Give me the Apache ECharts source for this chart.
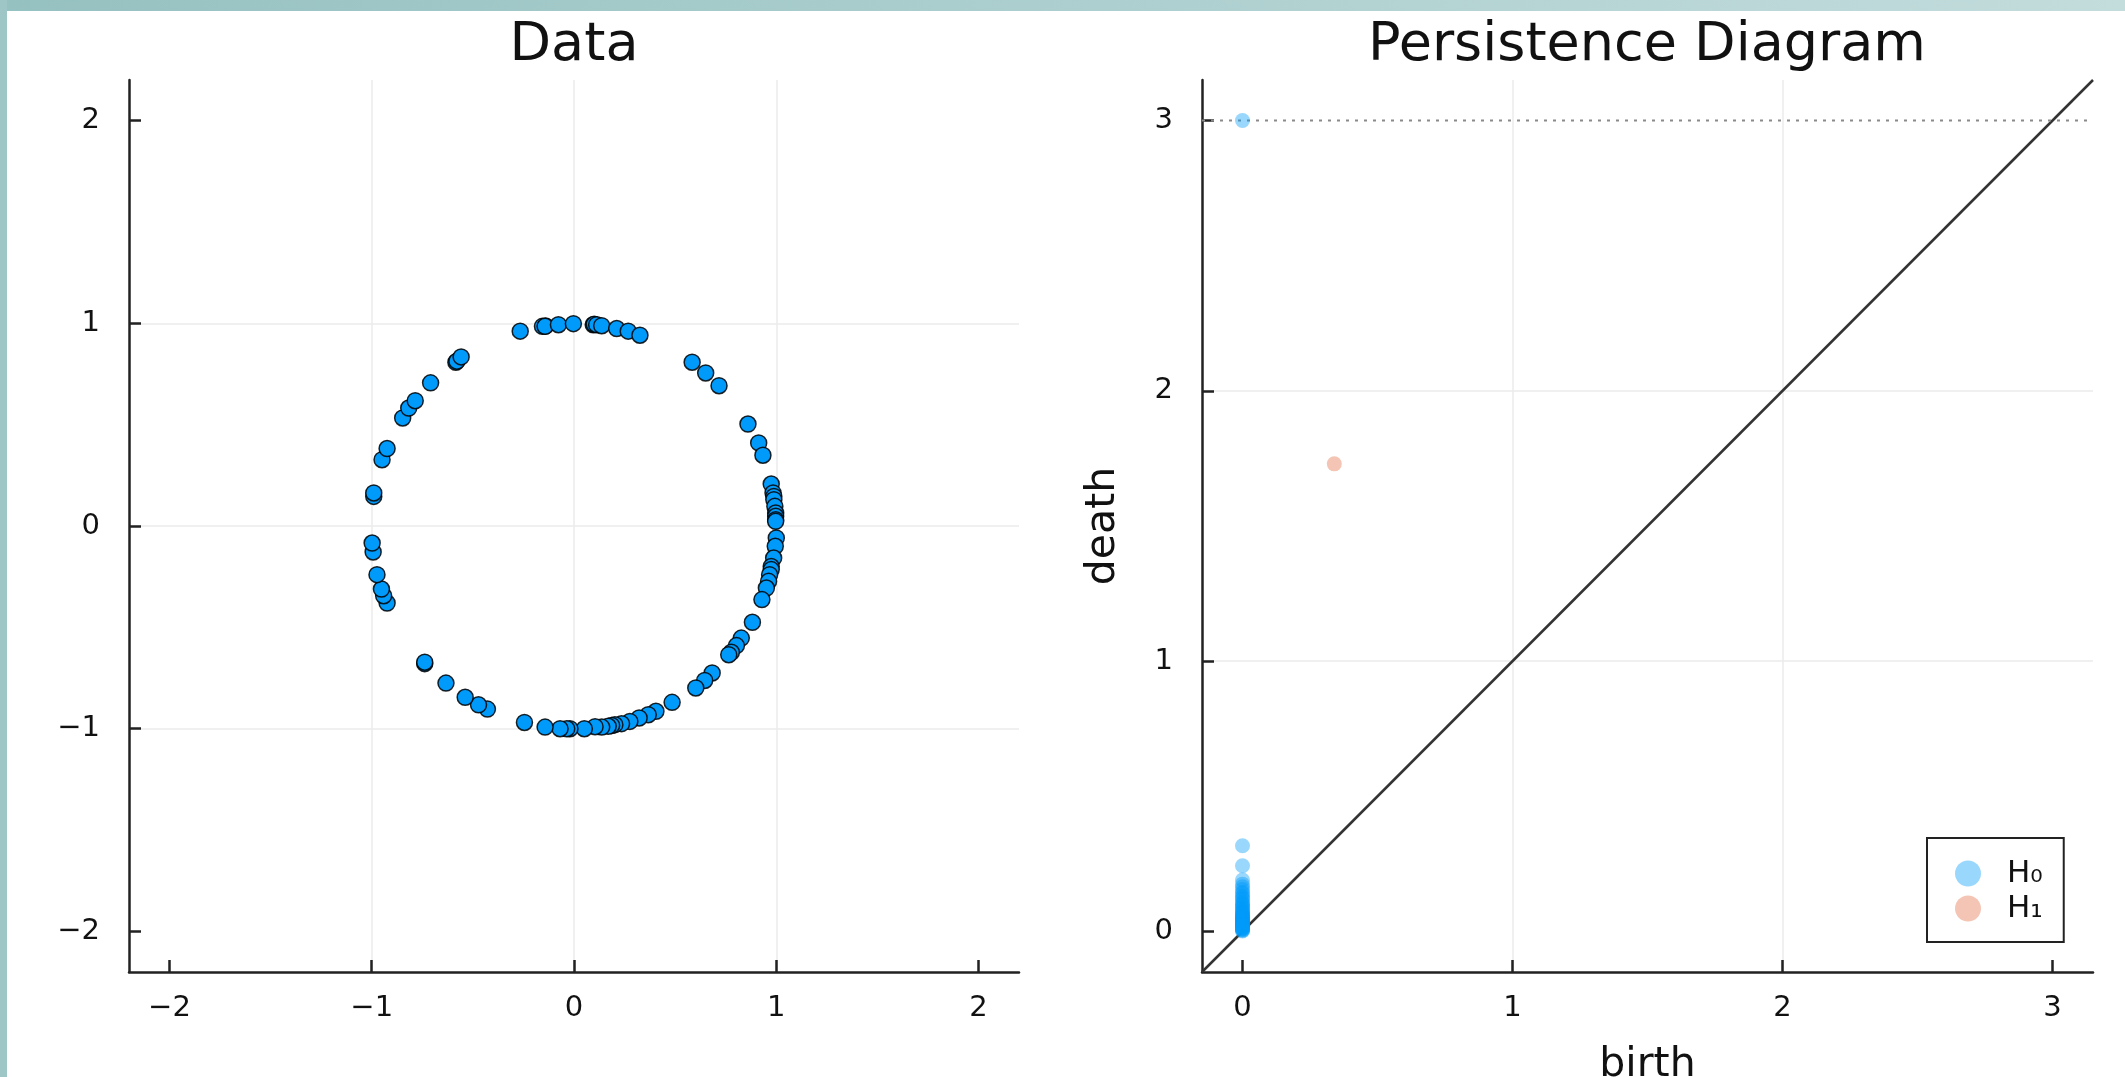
<!DOCTYPE html>
<html><head><meta charset="utf-8">
<script src="https://cdn.jsdelivr.net/npm/echarts@6/dist/echarts.min.js"></script>
<style>html,body{margin:0;padding:0;background:#fff;overflow:hidden}#c{width:2125px;height:1077px}</style>
</head><body><div id="c"></div>
<script>
// ---- Data ----
const dataX = [-0.266,-0.156,-0.140,-0.143,-0.077,-0.003,0.095,0.100,0.112,0.137,0.211,0.268,0.326,
  0.584,0.651,0.717,0.860,0.913,0.934,0.975,0.984,0.988,0.988,0.993,0.997,0.997,0.997,0.997,
  1.000,0.995,0.987,0.975,0.975,0.967,0.962,0.951,0.929,0.882,0.827,0.803,0.778,0.765,0.683,0.646,0.602,
  0.485,0.405,0.367,0.322,0.276,0.235,0.202,0.186,0.169,0.137,0.104,0.051,-0.020,-0.036,-0.069,-0.143,-0.245,
  -0.428,-0.472,-0.538,-0.633,-0.738,-0.738,-0.924,-0.941,-0.952,-0.974,-0.993,-0.998,
  -0.990,-0.990,-0.949,-0.924,-0.847,-0.817,-0.785,-0.709,-0.584,-0.579,-0.558];
const dataY = [0.961,0.985,0.987,0.985,0.993,0.998,0.993,0.995,0.993,0.988,0.974,0.961,0.941,
  0.808,0.755,0.692,0.503,0.410,0.349,0.207,0.163,0.146,0.130,0.097,0.064,0.048,0.031,0.023,
  -0.059,-0.100,-0.158,-0.200,-0.215,-0.240,-0.273,-0.306,-0.363,-0.475,-0.553,-0.590,-0.623,-0.635,-0.725,-0.762,-0.799,
  -0.870,-0.914,-0.931,-0.947,-0.964,-0.975,-0.980,-0.984,-0.988,-0.992,-0.990,-1.000,-1.000,-1.000,-1.000,-0.992,-0.969,
  -0.903,-0.882,-0.845,-0.775,-0.679,-0.672,-0.380,-0.344,-0.311,-0.240,-0.128,-0.084,
  0.146,0.163,0.327,0.382,0.533,0.582,0.618,0.706,0.808,0.813,0.834];

const h0Death = [3.0,0.317,0.243,0.190,0.175,0.165,0.155,0.145,0.140,0.130,0.125,0.120,0.110,0.105,
  0.100,0.095,0.090,0.085,0.080,0.075,0.070,0.068,0.065,0.060,0.058,0.055,0.052,0.050,0.048,0.045,
  0.042,0.040,0.038,0.035,0.033,0.030,0.028,0.026,0.024,0.022,0.020,0.018,0.016,0.014,0.012,0.010,
  0.008,0.006,0.004,0.002];
const h0Birth = [0,0,0,0,0,0,0,0,0,0,0,0,0,0,0,0,0,0,0,0,0,0,0,0,0,0,0,0,0,0,0,0,0,0,0,0,0,0,0,0,0,0,0,0,0,0,0,0,0,0];
const h1Birth = [0.34];
const h1Death = [1.73];
const infinityDeath = 3;

const dataTicks = [-2, -1, 0, 1, 2];
const pdTicks = [0, 1, 2, 3];
const dataRange = [-2.2, 2.2];
const pdRange = [-0.15, 3.15];

// ---- Chart ----
const FONT = 'DejaVu Sans';
const AX = '#222';
const fmt = v => String(v).replace('-', '\u2212');
const zip = (a, b) => a.map((v, i) => [v, b[i]]);

function axisCommon(range, ticks, margin, splitNumber) {
  return {
    type: 'value', min: range[0], max: range[1], splitNumber: splitNumber,
    axisLine: { show: true, onZero: false, lineStyle: { color: AX, width: 2.5 } },
    axisTick: { show: true, inside: true, length: 12, customValues: ticks, lineStyle: { color: AX, width: 2.5 } },
    axisLabel: { customValues: ticks, margin: margin, fontSize: 29, fontFamily: FONT, color: '#111', formatter: fmt },
    splitLine: { show: true, showMinLine: false, showMaxLine: false, lineStyle: { color: '#ebebeb', width: 1.5 } },
    nameTextStyle: { fontSize: 41, fontFamily: FONT, color: '#111' }
  };
}

const chart = echarts.init(document.getElementById('c'), null, { renderer: 'canvas' });
const option = {
  backgroundColor: '#fff',
  animation: false,
  graphic: [
    { type: 'rect', shape: { x: 0, y: 0, width: 2125, height: 11 }, silent: true,
      style: { fill: new echarts.graphic.LinearGradient(0, 0, 1, 0, [{ offset: 0, color: '#96c1c1' }, { offset: 1, color: '#c3dcdc' }]) } },
    { type: 'rect', shape: { x: 0, y: 0, width: 7, height: 1077 }, silent: true, style: { fill: '#9ec6c6' } }
  ],
  title: [
    { text: 'Data', left: 574, top: 16, textAlign: 'center', padding: 0,
      textStyle: { fontSize: 54, fontWeight: 'normal', fontFamily: FONT, color: '#111', lineHeight: 60 } },
    { text: 'Persistence Diagram', left: 1647, top: 16, textAlign: 'center', padding: 0,
      textStyle: { fontSize: 54, fontWeight: 'normal', fontFamily: FONT, color: '#111', lineHeight: 60 } }
  ],
  grid: [
    { left: 129, top: 80, width: 890, height: 892, outerBoundsMode: 'none', containLabel: false },
    { left: 1202, top: 80, width: 891, height: 892, outerBoundsMode: 'none', containLabel: false }
  ],
  xAxis: [
    Object.assign(axisCommon(dataRange, dataTicks, 22, 4), { gridIndex: 0 }),
    Object.assign(axisCommon(pdRange, pdTicks, 22, 3), { gridIndex: 1, name: 'birth', nameLocation: 'middle', nameGap: 73 })
  ],
  yAxis: [
    Object.assign(axisCommon(dataRange, dataTicks, 29, 4), { gridIndex: 0 }),
    Object.assign(axisCommon(pdRange, pdTicks, 29, 3), { gridIndex: 1, name: 'death', nameLocation: 'middle', nameGap: 78, nameRotate: 90 })
  ],
  legend: {
    data: ['H\u2080', 'H\u2081'],
    orient: 'vertical', left: 1927, top: 838,
    padding: [20, 21, 18, 28],
    itemWidth: 26, itemHeight: 26, itemGap: 4,
    borderColor: '#222', borderWidth: 2, backgroundColor: '#fff',
    textStyle: { fontSize: 31, fontFamily: FONT, color: '#111', padding: [0, 0, 0, 21] },
    icon: 'circle'
  },
  series: [
    { name: 'Data', type: 'scatter', xAxisIndex: 0, yAxisIndex: 0, symbol: 'circle', symbolSize: 16,
      data: zip(dataX, dataY),
      itemStyle: { color: '#009AFA', borderColor: 'rgba(0,0,0,0.85)', borderWidth: 1.5, opacity: 1 } },
    { name: 'diagonal', type: 'line', xAxisIndex: 1, yAxisIndex: 1, symbol: 'none', silent: true, z: 1,
      data: [[pdRange[0], pdRange[0]], [pdRange[1], pdRange[1]]],
      lineStyle: { color: '#333', width: 2.5 } },
    { name: 'infinity', type: 'line', xAxisIndex: 1, yAxisIndex: 1, symbol: 'none', silent: true, z: 1,
      data: [[pdRange[0], infinityDeath], [pdRange[1], infinityDeath]],
      lineStyle: { color: '#8a8a8a', width: 2, type: [3, 6] } },
    { name: 'H\u2080', type: 'scatter', xAxisIndex: 1, yAxisIndex: 1, symbol: 'circle', symbolSize: 15, z: 3,
      data: zip(h0Birth, h0Death),
      itemStyle: { color: 'rgba(0,154,250,0.5)', borderWidth: 0 } },
    { name: 'H\u2081', type: 'scatter', xAxisIndex: 1, yAxisIndex: 1, symbol: 'circle', symbolSize: 15, z: 3,
      data: zip(h1Birth, h1Death),
      itemStyle: { color: 'rgba(227,111,71,0.5)', borderWidth: 0 } }
  ]
};
chart.setOption(option);
</script>
</body></html>
